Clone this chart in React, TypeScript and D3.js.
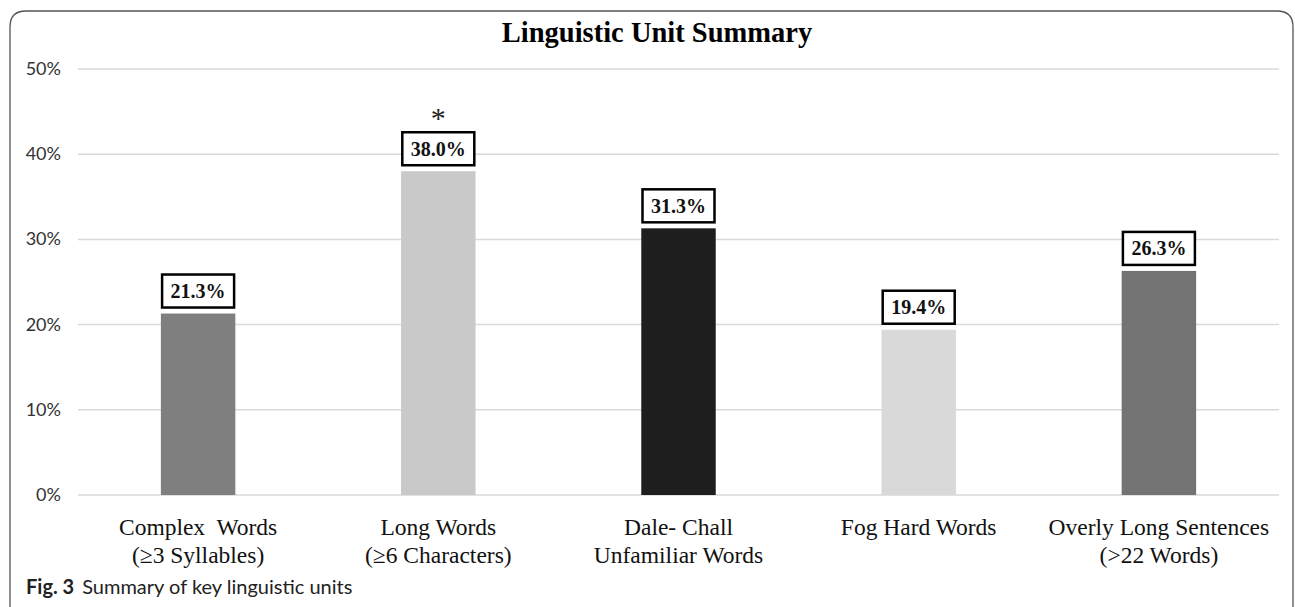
import React from "react";
import * as d3 from "d3";

const categories = [
  ["Complex  Words", "(≥3 Syllables)"],
  ["Long Words", "(≥6 Characters)"],
  ["Dale- Chall", "Unfamiliar Words"],
  ["Fog Hard Words"],
  ["Overly Long Sentences", "(>22 Words)"],
];
const values = [21.3, 38.0, 31.3, 19.4, 26.3];
const barColors = ["#7f7f7f", "#c9c9c9", "#1e1e1e", "#d9d9d9", "#737373"];
const yTicks = [0, 10, 20, 30, 40, 50];
const significant = [false, true, false, false, false];

const W = 1295;
const H = 607;
const plotLeft = 78;
const plotRight = 1279;
const yTop = 69;
const yBottom = 495;

export default function App() {
  const x = d3
    .scaleBand<number>()
    .domain(d3.range(values.length))
    .range([plotLeft, plotRight])
    .paddingInner(0.69)
    .paddingOuter(0.345);
  const y = d3.scaleLinear().domain([0, 50]).range([yBottom, yTop]);
  const serif = "'Liberation Serif', 'Times New Roman', serif";
  const sans = "Lato, 'Noto Sans', sans-serif";
  const boxW = 72;
  const boxH = 33;

  const r = 16;
  const borderPath = `M10,${H} L10,${11 + r} Q10,11 ${10 + r},11 L${1293 - r},11 Q1293,11 1293,${11 + r} L1293,${H}`;

  return (
    <svg
      width={W}
      height={H}
      style={{ position: "absolute", left: 0, top: 0, background: "#fff" }}
    >
      <rect x={0} y={0} width={W} height={H} fill="#fff" />
      <path d={borderPath} fill="none" stroke="#555" strokeWidth={1.3} />
      <text
        x={657}
        y={42}
        textAnchor="middle"
        fontFamily={serif}
        fontWeight="bold"
        fontSize={28.5}
        fill="#000"
      >
        Linguistic Unit Summary
      </text>
      {yTicks.map((t) => (
        <g key={t}>
          <line
            x1={plotLeft}
            x2={plotRight}
            y1={y(t)}
            y2={y(t)}
            stroke="#d9d9d9"
            strokeWidth={1.5}
          />
          <text
            x={61}
            y={y(t) + 6}
            textAnchor="end"
            fontFamily={sans}
            fontSize={18}
            fill="#333"
          >
            {t}%
          </text>
        </g>
      ))}
      {values.map((v, i) => {
        const bx = x(i)!;
        const cx = bx + x.bandwidth() / 2;
        const top = y(v);
        return (
          <g key={i}>
            <rect
              x={bx}
              y={top}
              width={x.bandwidth()}
              height={yBottom - top}
              fill={barColors[i]}
            />
            <rect
              x={cx - boxW / 2}
              y={top - 6 - boxH}
              width={boxW}
              height={boxH}
              fill="#fff"
              stroke="#000"
              strokeWidth={2.5}
            />
            <text
              x={cx}
              y={top - 6 - boxH / 2 + 7}
              textAnchor="middle"
              fontFamily={serif}
              fontWeight="bold"
              fontSize={20}
              fill="#111"
            >
              {v.toFixed(1)}%
            </text>
            {significant[i] && (
              <text
                x={cx}
                y={top - 6 - boxH - 4}
                textAnchor="middle"
                fontFamily={serif}
                fontSize={30}
                fill="#222"
              >
                *
              </text>
            )}
            {categories[i].map((line, j) => (
              <text
                key={j}
                x={cx}
                y={535 + j * 28}
                textAnchor="middle"
                fontFamily={serif}
                fontSize={23.5}
                fill="#111"
                style={{ whiteSpace: "pre" }}
              >
                {line}
              </text>
            ))}
          </g>
        );
      })}
      <text x={26} y={594} fontFamily={sans} fontSize={20} fill="#222">
        <tspan fontWeight="bold">Fig. 3</tspan>
        <tspan dx={8}>Summary of key linguistic units</tspan>
      </text>
    </svg>
  );
}
